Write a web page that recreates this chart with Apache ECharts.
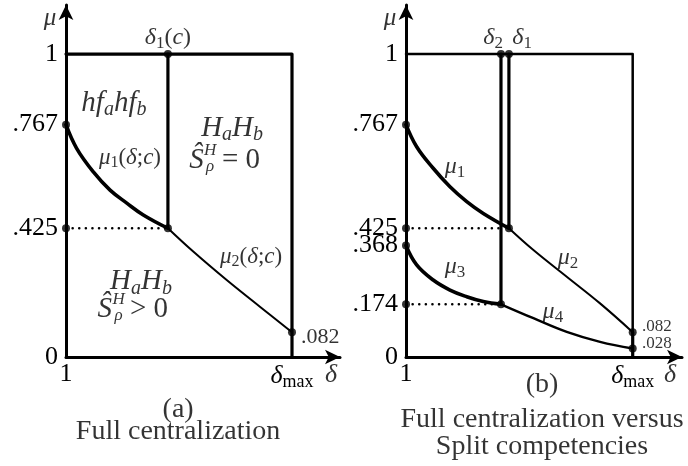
<!DOCTYPE html>
<html>
<head>
<meta charset="utf-8">
<script src="https://cdn.jsdelivr.net/npm/echarts@6/dist/echarts.min.js"></script>
<style>html,body{margin:0;background:#fff}#c{width:688px;height:466px}</style>
</head>
<body>
<div id="c"></div>
<script>
// delta axis: t = 0 at delta = 1, t = 1 at delta_max
var dA1 = 0.451;                 // delta1(c), panel (a)
var dB2 = 0.419, dB1 = 0.454;    // delta2, delta1, panel (b)

var mu1A = [[0,0.767],[0.047,0.689],[0.121,0.611],[0.195,0.551],[0.269,0.508],[0.342,0.469],[0.451,0.425]];
var mu2A = [[0.451,0.425],[0.563,0.348],[0.711,0.254],[0.858,0.166],[1,0.082]];
var mu1B = [[0,0.767],[0.047,0.694],[0.120,0.623],[0.194,0.562],[0.268,0.513],[0.341,0.474],[0.454,0.425]];
var mu2B = [[0.454,0.425],[0.562,0.353],[0.709,0.265],[0.856,0.177],[1,0.082]];
var mu3B = [[0,0.368],[0.047,0.304],[0.120,0.254],[0.194,0.221],[0.268,0.199],[0.341,0.183],[0.419,0.174]];
var mu4B = [[0.419,0.174],[0.562,0.128],[0.709,0.083],[0.856,0.050],[1,0.028]];

var yTicksA = [0, 0.425, 0.767, 1];
var yTicksB = [0, 0.174, 0.368, 0.425, 0.767, 1];
var xTicks = [0, 1];

var dotsA = [[dA1,1],[0,0.767],[0,0.425],[dA1,0.425],[1,0.082]];
var dotsB = [[dB2,1],[dB1,1],[0,0.767],[0,0.425],[dB1,0.425],[0,0.368],[0,0.174],[dB2,0.174],[1,0.082],[1,0.028]];

// text notes: [t, mu, text, size, align]
var notesA = [
  [0.451, 1.053, '{m|δ}{s|1}{r|(}{m|c}{r|)}', 24, 'center'],
  [0.212, 0.838, '{m|hf}{si|a}{m|hf}{si|b}', 29, 'center'],
  [0.735, 0.756, '{m|H}{si|a}{m|H}{si|b}', 29, 'center'],
  [0.577, 0.650, '{m|Ŝ}', 29, 'center'],
  [0.638, 0.655, '{m|H}\n{m|ρ}', 17, 'center'],
  [0.690, 0.650, '{r|= 0}', 29, 'left'],
  [0.283, 0.657, '{m|μ}{s|1}{r|(}{m|δ}{r|;}{m|c}{r|)}', 23, 'center'],
  [0.819, 0.330, '{m|μ}{s|2}{r|(}{m|δ}{r|;}{m|c}{r|)}', 23, 'center'],
  [0.332, 0.248, '{m|H}{si|a}{m|H}{si|b}', 29, 'center'],
  [0.172, 0.158, '{m|Ŝ}', 29, 'center'],
  [0.233, 0.163, '{m|H}\n{m|ρ}', 17, 'center'],
  [0.283, 0.158, '{r|> 0}', 29, 'left'],
  [1.040, 0.066, '{r|.082}', 22, 'left'],
  [-0.071, 1.119, '{m|μ}', 25, 'center'],
  [1.173, -0.059, '{m|δ}', 26, 'center'],
  [0.496, -0.175, '{r|(a)}', 28, 'center'],
  [0.496, -0.248, '{r|Full centralization}', 28, 'center']
];
var notesB = [
  [0.384, 1.053, '{m|δ}{s|2}', 24, 'center'],
  [0.512, 1.053, '{m|δ}{s|1}', 24, 'center'],
  [0.216, 0.627, '{m|μ}{s|1}', 24, 'center'],
  [0.715, 0.327, '{m|μ}{s|2}', 24, 'center'],
  [0.216, 0.297, '{m|μ}{s|3}', 24, 'center'],
  [0.648, 0.149, '{m|μ}{s|4}', 24, 'center'],
  [1.041, 0.099, '{r|.082}', 17, 'left'],
  [1.041, 0.043, '{r|.028}', 17, 'left'],
  [-0.071, 1.119, '{m|μ}', 25, 'center'],
  [1.165, -0.059, '{m|δ}', 26, 'center'],
  [0.600, -0.092, '{r|(b)}', 28, 'center'],
  [0.600, -0.208, '{r|Full centralization versus}', 28, 'center'],
  [0.600, -0.297, '{r|Split competencies}', 28, 'center']
];

var serif = 'Liberation Serif';
function rich(size) {
  var sub = Math.round(size * 0.7);
  return {
    m: {fontFamily: serif, fontStyle: 'italic', fontSize: size, color: '#000'},
    r: {fontFamily: serif, fontSize: size, color: '#000'},
    s: {fontFamily: serif, fontSize: sub, color: '#000', padding: [Math.round(size * 0.45), 0, 0, 0]},
    si: {fontFamily: serif, fontStyle: 'italic', fontSize: sub, color: '#000', padding: [Math.round(size * 0.45), 0, 0, 0]}
  };
}

function noteSeries(notes, idx) {
  return {
    type: 'scatter', xAxisIndex: idx, yAxisIndex: idx, clip: false, silent: true,
    symbolSize: 1, itemStyle: {color: 'rgba(0,0,0,0)'},
    data: notes.map(function (n) {
      return {
        value: [n[0], n[1]],
        label: {show: true, position: 'inside', align: n[4], verticalAlign: 'middle',
          formatter: n[2], rich: rich(n[3]), lineHeight: n[3] * 0.9}
      };
    }),
    z: 10
  };
}

function seg(data, idx, width, type, smooth) {
  return {
    type: 'line', xAxisIndex: idx, yAxisIndex: idx, data: data, symbol: 'none',
    smooth: smooth || false, silent: true,
    lineStyle: {color: '#000', width: width, type: type || 'solid', cap: 'round', join: 'round'}
  };
}

function dots(data, idx) {
  return {
    type: 'scatter', xAxisIndex: idx, yAxisIndex: idx, data: data, clip: false,
    symbolSize: 8, itemStyle: {color: '#000'}, silent: true, z: 5
  };
}

function fmtY(v) {
  if (v === 0) return '0';
  if (v === 1) return '1';
  return String(v).replace(/^0/, '');
}

function xAxisDef(idx, max) {
  return {
    type: 'value', gridIndex: idx, min: 0, max: max,
    splitLine: {show: false}, axisTick: {show: false},
    axisLine: {lineStyle: {color: '#000', width: 3}, symbol: ['none', 'arrow'], symbolSize: [11, 15]},
    axisLabel: {
      customValues: xTicks, margin: 4, color: '#000',
      formatter: function (v) { return v === 0 ? '{r|1}' : '{m|δ}{s|max}'; },
      rich: rich(26)
    }
  };
}
function yAxisDef(idx, ticks) {
  return {
    type: 'value', gridIndex: idx, min: 0, max: 1.162,
    splitLine: {show: false}, axisTick: {show: false},
    axisLine: {lineStyle: {color: '#000', width: 3}, symbol: ['none', 'arrow'], symbolSize: [11, 15]},
    axisLabel: {
      customValues: ticks, margin: 8, color: '#000',
      fontFamily: serif, fontSize: 26,
      formatter: fmtY
    }
  };
}

var chart = echarts.init(document.getElementById('c'));
chart.setOption({
  animation: false,
  grid: [
    {left: 66, top: 5, width: 274, height: 352, outerBoundsMode: 'none'},
    {left: 406, top: 5, width: 276, height: 352, outerBoundsMode: 'none'}
  ],
  xAxis: [xAxisDef(0, 1.2124), xAxisDef(1, 1.2175)],
  yAxis: [yAxisDef(0, yTicksA), yAxisDef(1, yTicksB)],
  series: [
    // panel (a)
    seg([[0,1],[1,1],[1,0]], 0, 3.2),
    seg([[dA1,0.425],[dA1,1]], 0, 3.2),
    seg([[0,0.425],[dA1,0.425]], 0, 2.5, [0.1,6.5]),
    seg(mu1A, 0, 3.6, 'solid', 0.4),
    seg(mu2A, 0, 2, 'solid', 0.4),
    dots(dotsA, 0),
    noteSeries(notesA, 0),
    // panel (b)
    seg([[0,1],[1,1],[1,0.082]], 1, 2.5),
    seg([[1,0.082],[1,0]], 1, 3.2),
    seg([[dB2,0.174],[dB2,1]], 1, 3.2),
    seg([[dB1,0.425],[dB1,1]], 1, 3.2),
    seg([[0,0.425],[dB2,0.425]], 1, 2.5, [0.1,6.5]),
    seg([[0,0.174],[dB2,0.174]], 1, 2.5, [0.1,6.5]),
    seg(mu1B, 1, 3.6, 'solid', 0.4),
    seg(mu2B, 1, 2, 'solid', 0.4),
    seg(mu3B, 1, 3.6, 'solid', 0.4),
    seg(mu4B, 1, 2.4, 'solid', 0.4),
    dots(dotsB, 1),
    noteSeries(notesB, 1)
  ]
});
</script>
</body>
</html>
